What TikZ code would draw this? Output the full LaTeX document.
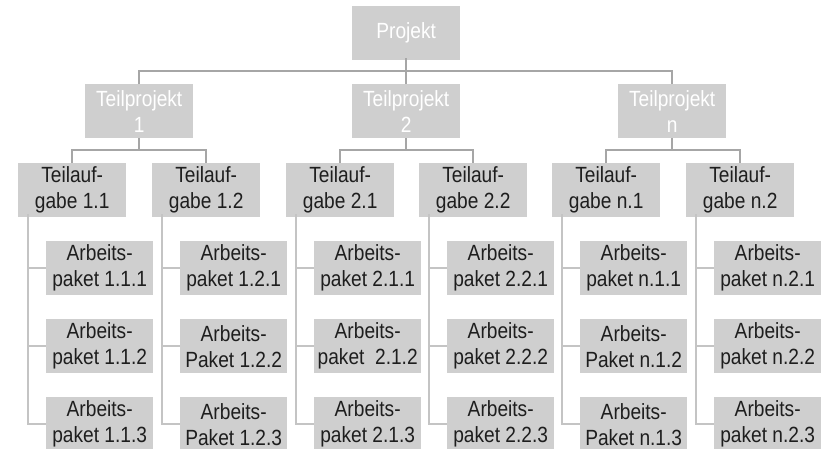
\documentclass[tikz,border=0pt]{standalone}
\usepackage{fontspec}
\setmainfont{Liberation Sans}
\newfontfamily\narrowfont[FakeStretch=0.87]{Liberation Sans}
\definecolor{boxgray}{HTML}{CFCFCF}
\definecolor{txt}{HTML}{1E1E1E}
\definecolor{lineA}{HTML}{A6A6A6}
\definecolor{lineB}{HTML}{C4C4C4}
\begin{document}
\begin{tikzpicture}[x=1pt,y=-1pt,
  box/.style={fill=boxgray, inner sep=0pt, minimum height=54pt, align=center,
    font=\narrowfont\fontsize{22}{26}\selectfont, text=txt, anchor=north west},
  topbox/.style={box, minimum width=108pt, text=white},
  taskbox/.style={box, minimum width=108pt},
  packbox/.style={box, minimum width=107pt},
  upl/.style={draw=lineA, line width=2.5pt},
  lowl/.style={draw=lineB, line width=2pt}]
\useasboundingbox (0,0) rectangle (827,448);

% top levels
\node[topbox] (P)  at (352,6)  {Projekt};
\node[topbox] (T1) at (85,84)  {Teilprojekt\\1};
\node[topbox] (T2) at (352,84) {Teilprojekt\\2};
\node[topbox] (T3) at (618,84) {Teilprojekt\\n};
\coordinate (bar) at (406,71);

% Teilaufgaben
\node[taskbox] (A1) at (18,163)  {Teilauf-\\gabe 1.1};
\node[taskbox] (A2) at (152,163) {Teilauf-\\gabe 1.2};
\node[taskbox] (A3) at (286,163) {Teilauf-\\gabe 2.1};
\node[taskbox] (A4) at (419,163) {Teilauf-\\gabe 2.2};
\node[taskbox] (A5) at (552,163) {Teilauf-\\gabe n.1};
\node[taskbox] (A6) at (686,163) {Teilauf-\\gabe n.2};

% Arbeitspakete
\node[packbox] (W11) at (46,241)  {Arbeits-\\paket 1.1.1};
\node[packbox] (W12) at (46,319)  {Arbeits-\\paket 1.1.2};
\node[packbox] (W13) at (46,397)  {Arbeits-\\paket 1.1.3};
\node[packbox] (W21) at (180,241) {Arbeits-\\paket 1.2.1};
\node[packbox] (W22) at (180,319) {Arbeits-\\Paket 1.2.2};
\node[packbox] (W23) at (180,397) {Arbeits-\\Paket 1.2.3};
\node[packbox] (W31) at (314,241) {Arbeits-\\paket 2.1.1};
\node[packbox] (W32) at (314,319) {Arbeits-\\paket\ \ 2.1.2};
\node[packbox] (W33) at (314,397) {Arbeits-\\paket 2.1.3};
\node[packbox] (W41) at (447,241) {Arbeits-\\paket 2.2.1};
\node[packbox] (W42) at (447,319) {Arbeits-\\paket 2.2.2};
\node[packbox] (W43) at (447,397) {Arbeits-\\paket 2.2.3};
\node[packbox] (W51) at (580,241) {Arbeits-\\paket n.1.1};
\node[packbox] (W52) at (580,319) {Arbeits-\\Paket n.1.2};
\node[packbox] (W53) at (580,397) {Arbeits-\\Paket n.1.3};
\node[packbox] (W61) at (714,241) {Arbeits-\\paket n.2.1};
\node[packbox] (W62) at (714,319) {Arbeits-\\paket n.2.2};
\node[packbox] (W63) at (714,397) {Arbeits-\\paket n.2.3};

% connectors top
\draw[upl] ([yshift=2pt]P.south) -- (T2.north);
\draw[upl] (T1.north) |- (bar) -| (T3.north);

% Teilprojekt -> Teilaufgaben
\foreach \t/\a/\b in {T1/A1/A2, T2/A3/A4, T3/A5/A6}{
  \draw[upl] (\t.south) -- ++(0,13);
  \draw[upl] (\a.north) -- ++(0,-13) -| (\b.north);
}

% Teilaufgaben -> Arbeitspakete
\foreach \k in {1,...,6}{
  \draw[lowl] ([xshift=10pt,yshift=3pt]A\k.south west) |- (W\k3.west);
  \draw[lowl] ([xshift=10pt]A\k.south west |- W\k1.west) -- (W\k1.west);
  \draw[lowl] ([xshift=10pt]A\k.south west |- W\k2.west) -- (W\k2.west);
}
\end{tikzpicture}
\end{document}
